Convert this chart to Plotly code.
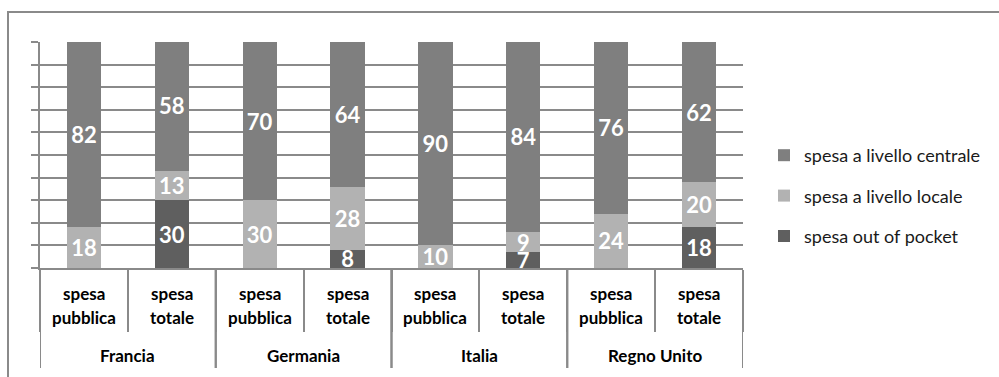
import plotly.graph_objects as go

# Composition of health spending by level of government
countries = ["Francia", "Germania", "Italia", "Regno Unito"]
spend_types = ["spesa pubblica", "spesa totale"]

central = [82, 58, 70, 64, 90, 84, 76, 62]
local = [18, 13, 30, 28, 10, 9, 24, 20]
out_of_pocket = [None, 30, None, 8, None, 7, None, 18]

series_names = ["spesa out of pocket", "spesa a livello locale", "spesa a livello centrale"]
series_colors = ["#5f5f5f", "#b2b2b2", "#7f7f7f"]
legend_ranks = [3, 2, 1]

W, H = 999, 377
L, R, T, B = 40, 256, 42, 109
PW, PH = W - L - R, H - T - B
GRID = "#8a8a8a"
FONT = "Lato"


def px_x(p):
    return (p - L) / PW


def px_y(p):
    return (H - B - p) / PH


positions = list(range(len(countries) * len(spend_types)))

fig = go.Figure()
for name, color, rank, vals in zip(series_names, series_colors, legend_ranks,
                                   [out_of_pocket, local, central]):
    fig.add_trace(go.Bar(
        x=positions,
        y=vals,
        name=name,
        legendgroup=name,
        legendrank=rank,
        marker=dict(color=color, line=dict(width=0)),
        width=0.39,
        text=[("" if v is None else str(v)) for v in vals],
        textposition="inside",
        insidetextanchor="middle",
        textangle=0,
        constraintext="none",
        textfont=dict(family=FONT, size=22, color="white", weight="bold"),
        hoverinfo="skip",
    ))

annotations = []
shapes = []

# category labels: two lines per bar, country names below
for i, pos in enumerate(positions):
    first, second = spend_types[i % 2].split(" ")
    for word, ypx in ((first, 293), (second, 317)):
        annotations.append(dict(
            x=pos, y=px_y(ypx), xref="x", yref="paper", text=word, showarrow=False,
            font=dict(family=FONT, size=17, color="#000000", weight="bold"),
            xanchor="center", yanchor="middle",
        ))
for g, country in enumerate(countries):
    annotations.append(dict(
        x=g * 2 + 0.5, y=px_y(355), xref="x", yref="paper", text=country, showarrow=False,
        font=dict(family=FONT, size=17, color="#000000", weight="bold"),
        xanchor="center", yanchor="middle",
    ))
    # group dividers
    for xb in (g * 2 - 0.5, g * 2 + 1.5):
        shapes.append(dict(type="line", xref="x", yref="paper", x0=xb, x1=xb,
                           y0=0, y1=px_y(368), line=dict(color=GRID, width=2)))

# outer frame
x0, x1 = px_x(8), px_x(1010)
y_top, y_bot = px_y(12), px_y(390)
shapes.append(dict(type="path", xref="paper", yref="paper",
                   path=f"M {x0},{y_bot} L {x0},{y_top} L {x1},{y_top}",
                   line=dict(color=GRID, width=2)))

fig.update_layout(
    width=W, height=H,
    margin=dict(l=L, r=R, t=T, b=B),
    paper_bgcolor="white", plot_bgcolor="white",
    barmode="stack",
    showlegend=True,
    legend=dict(
        x=px_x(764), xanchor="left", y=px_y(196), yanchor="middle",
        traceorder="grouped", tracegroupgap=14,
        font=dict(family=FONT, size=18, color="#1a1a1a"),
        bgcolor="rgba(0,0,0,0)",
    ),
    xaxis=dict(
        range=[-0.5, 7.5], tickvals=[p - 0.5 for p in positions] + [7.5],
        showticklabels=False, ticks="outside", ticklen=62, tickwidth=2, tickcolor=GRID,
        showline=True, linecolor=GRID, linewidth=2, showgrid=False, zeroline=False,
        fixedrange=True,
    ),
    yaxis=dict(
        range=[0, 100], dtick=10, showticklabels=False, ticks="outside", ticklen=7,
        tickwidth=2, tickcolor=GRID, showline=True, linecolor=GRID, linewidth=2,
        showgrid=True, gridcolor=GRID, gridwidth=2, zeroline=False, fixedrange=True,
    ),
    annotations=annotations,
    shapes=shapes,
)

fig.write_html("out.html")
